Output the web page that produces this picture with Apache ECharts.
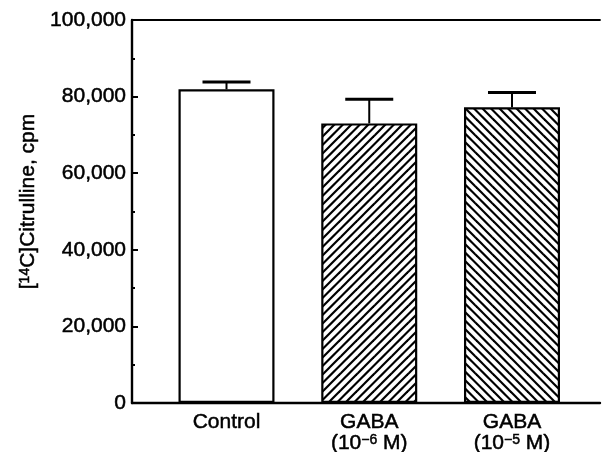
<!DOCTYPE html>
<html><head><meta charset="utf-8">
<script src="https://cdn.jsdelivr.net/npm/echarts@6/dist/echarts.min.js"></script>
<style>html,body{margin:0;padding:0;background:#fff}#c{width:602px;height:452px}</style>
</head><body><div id="c"></div>
<script>
// ---- data ----
const categories = ['Control', 'GABA\n(10{sup|−6} M)', 'GABA\n(10{sup|−5} M)'];
const positions = [1, 2, 3];
const means = [81900, 73000, 77200];
const errorTops = [83800, 79300, 81100];
const yTicks = [0, 20000, 40000, 60000, 80000, 100000];
const yTitle = '[{sup|14}C]Citrulline, cpm';

const FONT = '"Liberation Sans", Arial, Helvetica, sans-serif';

function hatch(dir) {
  const s = 17, step = 8.5;
  const c = document.createElement('canvas');
  c.width = s; c.height = s;
  const g = c.getContext('2d');
  g.fillStyle = '#fff'; g.fillRect(0, 0, s, s);
  g.strokeStyle = '#000'; g.lineWidth = 2.2;
  for (let k = -3; k <= 3; k++) {
    const a = k * step;
    g.beginPath();
    if (dir > 0) { g.moveTo(a - 3, s + 3); g.lineTo(a + s + 3, -3); }
    else { g.moveTo(a - 3, -3); g.lineTo(a + s + 3, s + 3); }
    g.stroke();
  }
  return c;
}
const fills = ['#ffffff', { image: hatch(1), repeat: 'repeat' }, { image: hatch(-1), repeat: 'repeat' }];

const heavy = { textBorderColor: '#000', textBorderWidth: 0.5 };
const supStyle = Object.assign({ fontSize: 14, lineHeight: 14, verticalAlign: 'top', fontFamily: FONT, color: '#000' }, heavy);

const chart = echarts.init(document.getElementById('c'), null, { renderer: 'canvas' });
const xMin = 0.338, xMax = 3.6165;
chart.setOption({
  animation: false,
  backgroundColor: '#fff',
  textStyle: { fontFamily: FONT },
  grid: { left: 132, top: 20, right: 2, bottom: 49, outerBoundsMode: 'none', containLabel: false },
  xAxis: [{
    type: 'value', min: xMin, max: xMax, position: 'bottom',
    axisLine: { show: true, onZero: false, lineStyle: { color: '#000', width: 2.4 } },
    axisTick: { show: false },
    splitLine: { show: false },
    axisLabel: Object.assign({
      customValues: positions,
      color: '#000', fontSize: 21, fontFamily: FONT, lineHeight: 21, margin: 9,
      formatter: function (v) { const i = positions.indexOf(Math.round(v)); return i >= 0 ? categories[i] : ''; },
      rich: { sup: supStyle }
    }, heavy)
  }, {
    type: 'value', min: xMin, max: xMax, position: 'top',
    axisLine: { show: true, onZero: false, lineStyle: { color: '#000', width: 1.8 } },
    axisTick: { show: false }, axisLabel: { show: false }, splitLine: { show: false }
  }],
  yAxis: {
    type: 'value', min: 0, max: 100000, interval: 20000,
    axisLine: { show: true, lineStyle: { color: '#000', width: 2.4 } },
    axisTick: { show: true, inside: true, length: 6, lineStyle: { color: '#000', width: 2 } },
    minorTick: { show: true, splitNumber: 2, length: 3, lineStyle: { color: '#000', width: 2 } },
    splitLine: { show: false },
    axisLabel: Object.assign({
      color: '#000', fontSize: 21, fontFamily: FONT, margin: 6,
      formatter: function (v) { return yTicks.indexOf(v) >= 0 ? v.toLocaleString('en-US') : ''; }
    }, heavy),
    name: yTitle, nameLocation: 'middle', nameGap: 93,
    nameTextStyle: Object.assign({
      color: '#000', fontSize: 21, fontFamily: FONT, padding: [0, 0, 0, 20],
      rich: { sup: supStyle }
    }, heavy)
  },
  series: [{
    type: 'bar', xAxisIndex: 0, barWidth: 96,
    data: positions.map((p, i) => ({
      value: [p, means[i]],
      itemStyle: { color: fills[i], borderColor: '#000', borderWidth: 2.2 }
    }))
  }, {
    type: 'custom', xAxisIndex: 0,
    data: positions.map((p, i) => [p, means[i], errorTops[i]]),
    renderItem: function (params, api) {
      const base = api.coord([api.value(0), api.value(1)]);
      const top = api.coord([api.value(0), api.value(2)]);
      const half = 24;
      return {
        type: 'group', children: [
          { type: 'line', shape: { x1: base[0], y1: base[1], x2: top[0], y2: top[1] }, style: { stroke: '#000', lineWidth: 2 } },
          { type: 'line', shape: { x1: top[0] - half, y1: top[1], x2: top[0] + half, y2: top[1] }, style: { stroke: '#000', lineWidth: 3 } }
        ]
      };
    },
    z: 3
  }]
});
</script></body></html>
